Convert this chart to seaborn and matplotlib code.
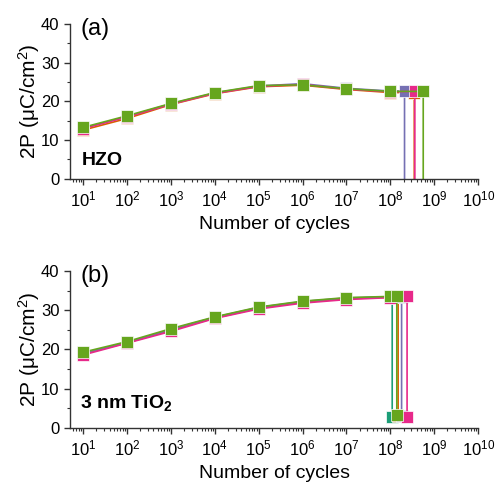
import numpy as np
import pandas as pd
import seaborn as sns
import matplotlib.pyplot as plt
from matplotlib.ticker import LogLocator, MultipleLocator, NullFormatter

# %%
cycles = [1e1, 1e2, 1e3, 1e4, 1e5, 1e6, 1e7, 1e8]

# HZO (a)
hzo_names = ['orange', 'purple', 'pink', 'green']
hzo_vals = {
    'orange': [12.6, 15.6, 19.2, 22.0, 23.8, 24.2, 23.1, 22.3],
    'purple': [13.1, 16.1, 19.4, 22.2, 24.0, 24.6, 23.4, 22.7],
    'pink':   [13.0, 16.0, 19.3, 22.1, 23.9, 24.4, 23.2, 22.5],
    'green':  [13.3, 16.3, 19.5, 22.3, 24.1, 24.3, 23.3, 22.6],
}
hzo_break = {'orange': 3.5e8, 'purple': 2.1e8, 'pink': 3.6e8, 'green': 5.6e8}
hzo_high = {'orange': 22.3, 'purple': 22.7, 'pink': 22.6, 'green': 22.6}
hzo_low = {'orange': -3, 'purple': -3, 'pink': -3, 'green': -3}

# 3 nm TiO2 (b)
tio_names = ['teal', 'orange', 'purple', 'pink', 'green']
tio_vals = {
    'teal':   [19.0, 21.8, 25.0, 28.1, 30.6, 32.1, 33.0, 33.4],
    'orange': [18.9, 21.7, 24.9, 28.0, 30.5, 32.0, 32.9, 33.3],
    'purple': [19.1, 21.7, 25.1, 28.2, 30.7, 32.2, 33.1, 33.4],
    'pink':   [18.6, 21.6, 24.6, 27.9, 30.3, 31.8, 32.7, 33.2],
    'green':  [19.3, 22.0, 25.3, 28.3, 30.8, 32.3, 33.2, 33.5],
}
tio_break = {'teal': 1.1e8, 'orange': 1.5e8, 'purple': 1.8e8, 'pink': 2.4e8, 'green': 1.4e8}
tio_high = {'teal': 33.4, 'orange': 33.3, 'purple': 33.4, 'pink': 33.5, 'green': 33.5}
tio_low = {'teal': 2.8, 'orange': 3.0, 'purple': 3.0, 'pink': 2.8, 'green': 3.2}

dark2 = sns.color_palette('Dark2')
colors = {'teal': dark2[0], 'orange': dark2[1], 'purple': dark2[2],
          'pink': dark2[3], 'green': dark2[4]}


def make_df(names, vals, brk, high, low):
    rows = []
    for n in names:
        xs = cycles + [brk[n], brk[n]]
        ys = vals[n] + [high[n], low[n]]
        for x, y in zip(xs, ys):
            rows.append({'series': n, 'cycles': x, 'P': y})
    return pd.DataFrame(rows)


df_a = make_df(hzo_names, hzo_vals, hzo_break, hzo_high, hzo_low)
df_b = make_df(tio_names, tio_vals, tio_break, tio_high, tio_low)

# %%
sns.set_style('ticks')
plt.rcParams['font.family'] = ['Liberation Sans', 'DejaVu Sans']
plt.rcParams['mathtext.fontset'] = 'custom'
plt.rcParams['mathtext.rm'] = 'Liberation Sans'
plt.rcParams['mathtext.it'] = 'Liberation Sans:italic'
plt.rcParams['mathtext.bf'] = 'Liberation Sans:bold'
for k in ['text.color', 'axes.labelcolor', 'xtick.color', 'ytick.color']:
    plt.rcParams[k] = 'black'

fig = plt.figure(figsize=(4.95, 4.82), dpi=100)
ax1 = fig.add_axes([0.1414, 0.629, 0.8246, 0.321])
ax2 = fig.add_axes([0.1414, 0.112, 0.8246, 0.326])

for ax, df, names in [(ax1, df_a, hzo_names), (ax2, df_b, tio_names)]:
    for n in names:
        sns.lineplot(data=df[df['series'] == n], x='cycles', y='P',
                     color=colors[n], marker='s', markersize=8.5,
                     markeredgewidth=0.5, linewidth=1.2,
                     estimator=None, sort=False, ax=ax, legend=False)
    ax.set_xscale('log')
    ax.set_xlim(10 ** 0.7, 1e10)
    ax.set_ylim(0, 40)
    ax.set_xticks([10.0 ** k for k in range(1, 11)])
    ax.xaxis.set_minor_locator(LogLocator(base=10, subs=np.arange(2, 10), numticks=20))
    ax.xaxis.set_minor_formatter(NullFormatter())
    ax.yaxis.set_major_locator(MultipleLocator(10))
    ax.yaxis.set_minor_locator(MultipleLocator(5))
    ax.tick_params(which='major', labelsize=12, length=4, width=1, direction='out',
                   color='#333333')
    ax.tick_params(which='minor', length=2, width=0.8, direction='out',
                   color='#333333')
    for s in ['left', 'bottom']:
        ax.spines[s].set_linewidth(1)
        ax.spines[s].set_color('#333333')
    sns.despine(ax=ax)
    ax.set_xlabel('Number of cycles', fontsize=14, labelpad=5)
    ax.set_ylabel('2P (μC/cm$^2$)', fontsize=15, labelpad=-1)

ax1.text(0.025, 0.93, '(a)', transform=ax1.transAxes, fontsize=17)
ax2.text(0.025, 0.93, '(b)', transform=ax2.transAxes, fontsize=17)
ax1.text(0.03, 0.09, 'HZO', transform=ax1.transAxes, fontsize=14, fontweight='bold')
ax2.text(0.025, 0.125, r'3 nm TiO$_\mathbf{2}$', transform=ax2.transAxes,
         fontsize=14, fontweight='bold')

plt.savefig('out.png', dpi=100)
